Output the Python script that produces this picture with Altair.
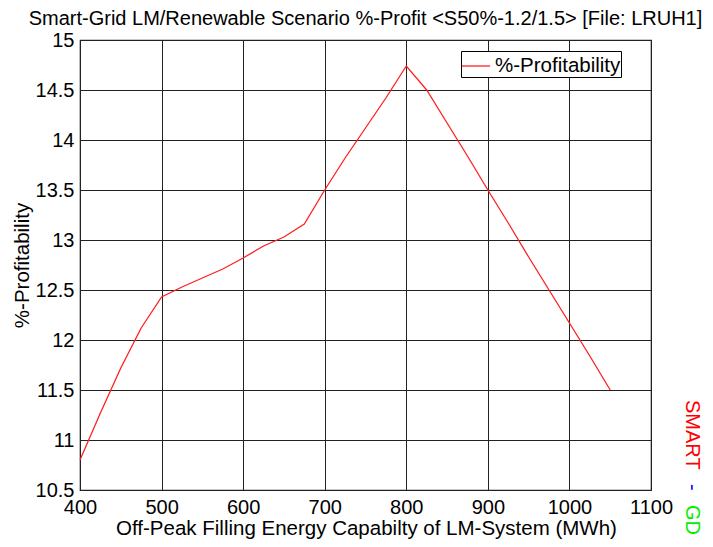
import altair as alt
import pandas as pd

energy = [400, 425, 450, 475, 500, 525, 550, 575, 600, 625, 650, 675, 700, 725,
          750, 775, 800, 825, 850, 875, 900, 925, 950, 975, 1000, 1025, 1050]
profit = [10.8, 11.27, 11.72, 12.12, 12.43, 12.53, 12.62, 12.71, 12.82, 12.94, 13.03,
          13.16, 13.5, 13.82, 14.12, 14.42, 14.74, 14.5, 14.17, 13.84, 13.5, 13.17,
          12.83, 12.5, 12.17, 11.84, 11.5]
series = ["%-Profitability"] * len(energy)
x_ticks = [400, 500, 600, 700, 800, 900, 1000, 1100]
y_ticks = [10.5, 11, 11.5, 12, 12.5, 13, 13.5, 14, 14.5, 15]

df = pd.DataFrame({"energy": energy, "profit": profit, "series": series})

FONT = "Liberation Sans"

line = alt.Chart(df).mark_line(strokeWidth=1.3).encode(
    x=alt.X("energy:Q",
            scale=alt.Scale(domain=[400, 1100], nice=False, zero=False),
            axis=alt.Axis(values=x_ticks, format="d", labelFlush=False,
                          title="Off-Peak Filling Energy Capabilty of LM-System (MWh)",
                          titleX=286, titleY=38, titleBaseline="middle", labelPadding=7)),
    y=alt.Y("profit:Q",
            scale=alt.Scale(domain=[10.5, 15], nice=False, zero=False),
            axis=alt.Axis(values=y_ticks, title="%-Profitability", format="~g", labelFlush=False,
                          titleX=-58, titleY=225, titleBaseline="middle", titleAngle=-90,
                          titleAlign="center", labelPadding=6)),
    color=alt.Color("series:N",
                    scale=alt.Scale(range=["#ff2020"]),
                    legend=alt.Legend(title=None, orient="none", legendX=381, legendY=11,
                                      strokeColor="black", fillColor="white", padding=0,
                                      symbolType="stroke", symbolSize=800, symbolStrokeWidth=1.3,
                                      labelFontSize=20.5, labelFont=FONT, labelColor="black",
                                      cornerRadius=0)),
)

smart = alt.Chart(pd.DataFrame({"t": ["SMART"]})).mark_text(
    angle=90, color="#ff0000", fontSize=20, font=FONT, align="left", baseline="middle"
).encode(text="t:N", x=alt.value(612), y=alt.value(360))
dash = alt.Chart(pd.DataFrame({"t": ["-"]})).mark_text(
    angle=90, color="#0000ff", fontSize=20, font=FONT, align="left", baseline="middle"
).encode(text="t:N", x=alt.value(612), y=alt.value(444))
gd = alt.Chart(pd.DataFrame({"t": ["GD"]})).mark_text(
    angle=90, color="#00ee00", fontSize=20, font=FONT, align="left", baseline="middle"
).encode(text="t:N", x=alt.value(612), y=alt.value(465))

chart = alt.layer(line, smart, dash, gd).properties(
    width=571, height=450,
    background="white",
    title=alt.TitleParams("Smart-Grid LM/Renewable Scenario %-Profit <S50%-1.2/1.5> [File: LRUH1]",
                          anchor="middle", fontSize=20, font=FONT, fontWeight="normal",
                          color="black", offset=1),
    autosize=alt.AutoSizeParams(type="none"),
    padding={"left": 72, "top": 32, "right": 54, "bottom": 49},
).configure_view(stroke="#222", strokeWidth=1.2).configure_axis(
    grid=True, gridColor="#222", gridWidth=1, gridOpacity=1,
    domain=False, ticks=False,
    labelFont=FONT, labelFontSize=20, labelColor="black",
    titleFont=FONT, titleFontSize=20.5, titleFontWeight="normal", titleColor="black",
)

chart.save("out.html", embed_options={"renderer": "svg", "actions": False})
